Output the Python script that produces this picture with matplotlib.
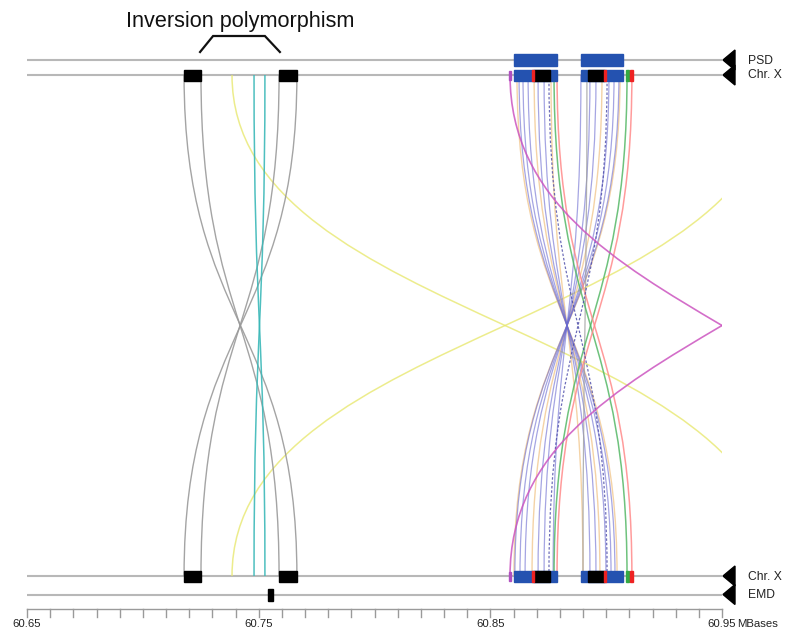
import matplotlib
matplotlib.use("Agg")
import matplotlib.pyplot as plt
from matplotlib.path import Path
from matplotlib.patches import PathPatch, Rectangle, Polygon

plt.rcParams['font.family'] = ['Liberation Sans', 'DejaVu Sans']

# ---------------- data (positions in MBases) ----------------
axis_start, axis_end = 60.65, 60.95
major_ticks = [60.65, 60.75, 60.85, 60.95]
tick_labels = ["60.65", "60.75", "60.85", "60.95"]
minor_ticks = [round(60.65 + 0.01 * i, 2) for i in range(31)]
unit_label = "MBases"
title = "Inversion polymorphism"
track_names = ["PSD", "Chr. X", "Chr. X", "EMD"]

# black blocks bounding the inverted segment (Chr. X, top and bottom)
inv_block_starts = [60.7178, 60.7588]
inv_block_ends = [60.7251, 60.7665]

# PSD gene blocks
psd_starts = [60.8602, 60.8891]
psd_ends = [60.8788, 60.9073]

# Chr. X features in the PSD region (same on both Chr. X rows)
feat_starts = [60.8602, 60.8891, 60.8689, 60.8922, 60.8681, 60.8991, 60.9086, 60.9103, 60.8581]
feat_ends = [60.8788, 60.9073, 60.8758, 60.8991, 60.8689, 60.9000, 60.9099, 60.9116, 60.8589]
feat_kinds = ["blue", "blue", "black", "black", "red", "red", "green", "red", "magenta"]

# EMD block
emd_start, emd_end = 60.7540, 60.7562

# links: position on top Chr. X -> position on bottom Chr. X
yellow_top = [60.7385, 60.9742]
yellow_bot = [60.9742, 60.7385]
gray_top = [60.7178, 60.7251, 60.7588, 60.7665]
gray_bot = [60.7665, 60.7588, 60.7251, 60.7178]
cyan_top = [60.7480, 60.7527]
cyan_bot = [60.7527, 60.7480]
magenta_top = [60.8585, 61.0415]
magenta_bot = [61.0415, 60.8585]
blue_top = [60.8624, 60.8641, 60.8663, 60.8706, 60.8732, 60.8891, 60.8930, 60.8956, 60.9012, 60.9034, 60.9055]
blue_bot = [60.9038, 60.9021, 60.8999, 60.8956, 60.8930, 60.8771, 60.8732, 60.8706, 60.8650, 60.8628, 60.8606]
orange_top = [60.8615, 60.8689, 60.8762, 60.8982, 60.9060]
orange_bot = [60.9047, 60.8973, 60.8900, 60.8680, 60.8602]
green_top = [60.8775, 60.9090]
green_bot = [60.9090, 60.8775]
red_top = [60.8788, 60.9111]
red_bot = [60.9111, 60.8788]
dash_top = [60.8753, 60.9004]
dash_bot = [60.9004, 60.8753]
graylink_top = [60.8917]
graylink_bot = [60.8900]

# ---------------- layout (pixel rows) ----------------
Y_PSD, Y_TOP, Y_BOT, Y_EMD, Y_AX = 60, 75, 576, 594.5, 609
Y_MID = (Y_TOP + Y_BOT) / 2

W, H = 785, 630
fig = plt.figure(figsize=(W / 100, H / 100), dpi=100)
x0px, x1px = 27, 722
ax = fig.add_axes([x0px / W, 0, (x1px - x0px) / W, 1])
ax.set_xlim(axis_start, axis_end)
ax.set_ylim(H, 0)
ax.axis("off")

mb_per_px = (axis_end - axis_start) / (x1px - x0px)

colors = {"blue": "#2452b0", "black": "#000000", "red": "#ee2222",
          "green": "#33aa44", "magenta": "#b050c0"}


def link(xt, xb, color, lw=1.0, alpha=1.0, ls="-", z=2):
    verts = [(xt, Y_TOP), (xt, Y_MID), (xb, Y_MID), (xb, Y_BOT)]
    codes = [Path.MOVETO, Path.CURVE4, Path.CURVE4, Path.CURVE4]
    p = PathPatch(Path(verts, codes), fill=False, edgecolor=color, lw=lw,
                  alpha=alpha, linestyle=ls, zorder=z, capstyle="butt")
    ax.add_patch(p)


# horizontal tracks
for y in (Y_PSD, Y_TOP, Y_BOT, Y_EMD):
    ax.plot([axis_start, axis_end], [y, y], color="#b8b8b8", lw=1.5, zorder=1,
            solid_capstyle="butt")

# links
for a, b in zip(yellow_top, yellow_bot):
    link(a, b, "#e8e870", lw=1.1, alpha=0.8, z=2)
for a, b in zip(orange_top, orange_bot):
    link(a, b, "#f2c890", lw=1.0, alpha=0.8, z=2)
for a, b in zip(blue_top, blue_bot):
    link(a, b, "#6a6ad0", lw=0.9, alpha=0.6, z=3)
for a, b in zip(graylink_top, graylink_bot):
    link(a, b, "#a0a0a0", lw=0.9, alpha=0.8, z=3)
for a, b in zip(gray_top, gray_bot):
    link(a, b, "#9a9a9a", lw=1.0, alpha=0.9, z=3)
for a, b in zip(cyan_top, cyan_bot):
    link(a, b, "#3bb8b8", lw=1.1, alpha=0.9, z=3)
for a, b in zip(green_top, green_bot):
    link(a, b, "#55b866", lw=1.1, alpha=0.85, z=4)
for a, b in zip(red_top, red_bot):
    link(a, b, "#ff8a8a", lw=1.1, alpha=0.85, z=4)
for a, b in zip(dash_top, dash_bot):
    link(a, b, "#4a4aa8", lw=0.9, alpha=0.8, ls=(0, (2, 1.5)), z=4)
for a, b in zip(magenta_top, magenta_bot):
    link(a, b, "#cc55c0", lw=1.2, alpha=0.85, z=4)

# black inversion blocks
for s, e in zip(inv_block_starts, inv_block_ends):
    for y in (Y_TOP, Y_BOT):
        ax.add_patch(Rectangle((s, y - 5.5), e - s, 11, color="black", zorder=6))

# PSD blocks
for s, e in zip(psd_starts, psd_ends):
    ax.add_patch(Rectangle((s, Y_PSD - 6), e - s, 12, color=colors["blue"], zorder=6))

# Chr. X features near PSD
for s, e, k in zip(feat_starts, feat_ends, feat_kinds):
    for y in (Y_TOP, Y_BOT):
        hh = 11 if k != "magenta" else 9
        ax.add_patch(Rectangle((s, y - hh / 2), e - s, hh, color=colors[k], zorder=7))

# EMD block
ax.add_patch(Rectangle((emd_start, Y_EMD - 6), emd_end - emd_start, 12,
                       color="black", zorder=6))

# triangles + track labels
tip = axis_end + 1 * mb_per_px
base = axis_end + 13 * mb_per_px
lab_x = axis_end + 26 * mb_per_px
for y, name in zip((Y_PSD, Y_TOP, Y_BOT, Y_EMD), track_names):
    ax.add_patch(Polygon([(tip, y), (base, y - 10), (base, y + 10)], closed=True,
                         color="black", clip_on=False, zorder=8))
    ax.text(lab_x, y + 0.5, name, ha="left", va="center", fontsize=8.7,
            color="#222222", clip_on=False)

# x axis
ax.plot([axis_start, axis_end], [Y_AX, Y_AX], color="#9a9a9a", lw=1.0, zorder=1,
        clip_on=False)
for t in minor_ticks:
    ax.plot([t, t], [Y_AX, Y_AX + 8], color="#9a9a9a", lw=1.0, zorder=1, clip_on=False)
for t, lab in zip(major_ticks, tick_labels):
    ax.text(t, 624, lab, ha="center", va="center", fontsize=8.2, color="#222222",
            clip_on=False)
ax.text(axis_end + 15 * mb_per_px, 624, unit_label, ha="left", va="center",
        fontsize=8.2, color="#222222", clip_on=False)

# title + bracket
ax.text((inv_block_starts[0] + inv_block_ends[1]) / 2, 21, title, ha="center",
        va="center", fontsize=15.6, color="#111111")
bx = [inv_block_starts[0] + 16 * mb_per_px, inv_block_starts[0] + 29 * mb_per_px,
      inv_block_ends[1] - 32 * mb_per_px, inv_block_ends[1] - 17 * mb_per_px]
ax.plot(bx, [52, 36, 36, 52], color="#111111", lw=1.6, solid_joinstyle="miter")

fig.savefig("out.png", dpi=100)
